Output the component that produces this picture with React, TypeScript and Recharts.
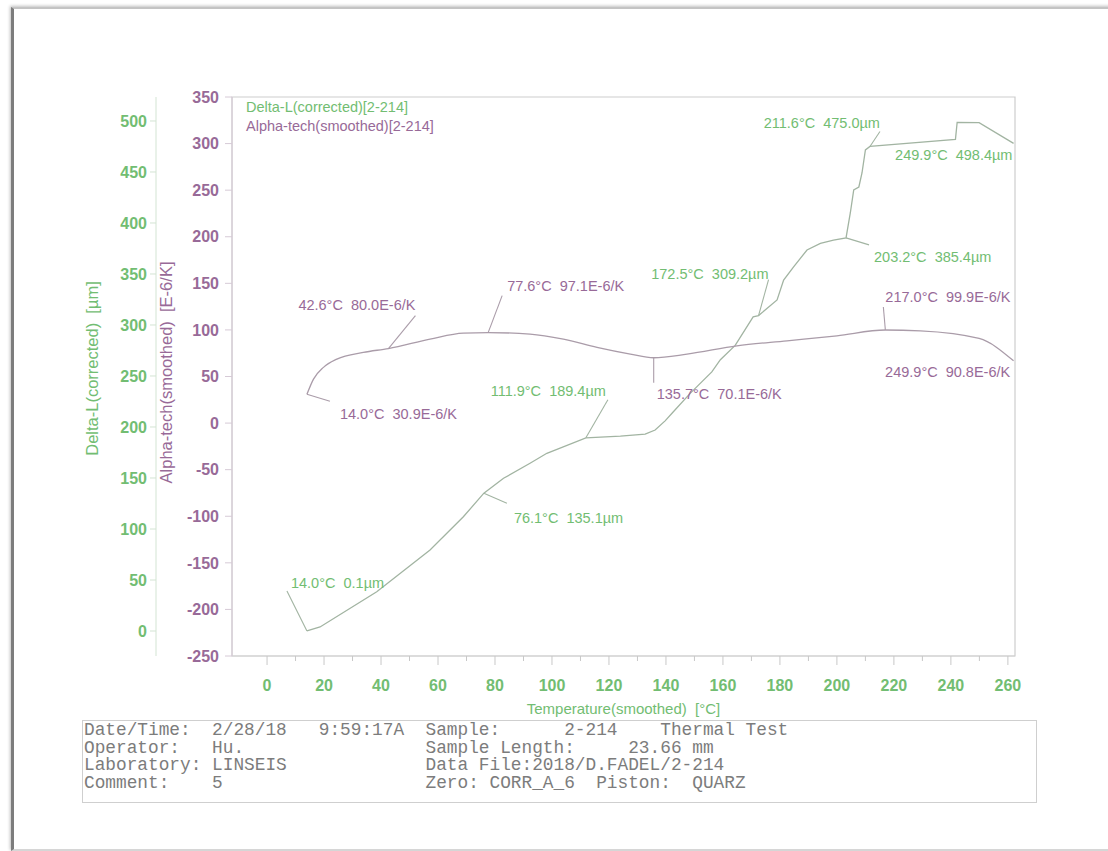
import React from 'react';
import { ComposedChart, Line, XAxis, YAxis, ReferenceArea, ReferenceDot, Legend } from 'recharts';

// ---------- data ----------
const dlTemps = [14.0, 18.6, 38.5, 57.2, 68.9, 76.1, 83.0, 92.3, 98.2, 111.9, 124.0, 132.7, 136.2, 139.7, 142.6, 148.5, 156.1, 159.1, 164.3, 170.6, 172.5, 179.0, 181.3, 184.8, 189.5, 194.2, 198.8, 203.2, 204.7, 205.9, 207.7, 208.8, 210.0, 211.6, 241.6, 242.2, 249.9, 262.0];
const dlValues = [0.1, 4, 38.5, 79.4, 112, 135.1, 149.7, 164.4, 174.2, 189.4, 191, 193, 197, 206, 215, 233, 254, 266, 280, 308, 309.2, 324.5, 344, 357, 373.5, 380, 383.3, 385.4, 409.8, 432.4, 435.3, 449, 471.6, 475.0, 482, 498.7, 498.4, 478];

const alphaTemps = [14.0, 16.3, 19.8, 24.5, 33.8, 42.6, 57.2, 68.9, 77.6, 92.3, 104.0, 115.8, 127.5, 135.7, 147.4, 164.9, 182.5, 200.0, 217.0, 229.3, 249.9, 262.0];
const alphaValues = [30.9, 47.2, 59.8, 68.7, 75.9, 80.0, 90.1, 96.6, 97.1, 95.5, 90.1, 81.2, 74.0, 70.1, 74.0, 82.9, 88.3, 93.7, 99.9, 99.0, 90.8, 66.8];

const dlMarkTemps = [14.0, 76.1, 111.9, 172.5, 203.2, 211.6, 249.9];
const dlMarkValues = [0.1, 135.1, 189.4, 309.2, 385.4, 475.0, 498.4];
const alphaMarkTemps = [14.0, 42.6, 77.6, 135.7, 217.0, 249.9];
const alphaMarkValues = [30.9, 80.0, 97.1, 70.1, 99.9, 90.8];

const xTickLabels = [0, 20, 40, 60, 80, 100, 120, 140, 160, 180, 200, 220, 240, 260];
const xMinorTicks = [10, 30, 50, 70, 90, 110, 130, 150, 170, 190, 210, 230, 250];
const dlTicks = [0, 50, 100, 150, 200, 250, 300, 350, 400, 450, 500];
const alphaTicks = [-250, -200, -150, -100, -50, 0, 50, 100, 150, 200, 250, 300, 350];

const dlName = 'Delta-L(corrected)[2-214]';
const alphaName = 'Alpha-tech(smoothed)[2-214]';

const infoRows: [number, string][][] = [
  [[0, 'Date/Time:'], [12, '2/28/18'], [22, '9:59:17A'], [32, 'Sample:'], [45, '2-214'], [54, 'Thermal Test']],
  [[0, 'Operator:'], [12, 'Hu.'], [32, 'Sample Length:'], [51, '23.66 mm']],
  [[0, 'Laboratory:'], [12, 'LINSEIS'], [32, 'Data File:2018/D.FADEL/2-214']],
  [[0, 'Comment:'], [12, '5'], [32, 'Zero: CORR_A_6  Piston:  QUARZ']],
];

// ---------- styles ----------
const GREEN = '#72bd72';
const PURPLE = '#986a98';
const DL_LINE = '#a2b4a2';
const AL_LINE = '#aa9ca9';
const FONT = '"Liberation Sans", Arial, sans-serif';

// label placement (pixel offsets from the marked point)
type Place = { dx: number; dy: number; anchor: 'start' | 'end'; leader?: [number, number] };
const dlPlaces: Place[] = [
  { dx: -16, dy: -48, anchor: 'start', leader: [-20, -40] },
  { dx: 30, dy: 25, anchor: 'start', leader: [23, 10] },
  { dx: 20, dy: -47, anchor: 'end', leader: [22, -38] },
  { dx: 10, dy: -42, anchor: 'end', leader: [10, -36] },
  { dx: 28, dy: 19, anchor: 'start', leader: [23, 7] },
  { dx: 10, dy: -23, anchor: 'end', leader: [10, -15] },
  { dx: -84, dy: 32, anchor: 'start' },
];
const alphaPlaces: Place[] = [
  { dx: 33, dy: 20, anchor: 'start', leader: [23, 7] },
  { dx: 27, dy: -44, anchor: 'end', leader: [27, -33] },
  { dx: 19, dy: -47, anchor: 'start', leader: [14, -37] },
  { dx: 3, dy: 36, anchor: 'start', leader: [0, 25] },
  { dx: 0, dy: -33, anchor: 'start', leader: [-2, -23] },
  { dx: -94, dy: 34, anchor: 'start' },
];

const dlData = dlTemps.map((t, i) => ({ t, v: dlValues[i] }));
const alphaData = alphaTemps.map((t, i) => ({ t, v: alphaValues[i] }));
const xTicks = [...xTickLabels, ...xMinorTicks].sort((a, b) => a - b);

const makeShape = (p: Place, color: string, lineColor: string, text: string) => (props: any) => {
  const { cx, cy } = props;
  return (
    <g>
      {p.leader && (
        <line x1={cx} y1={cy} x2={cx + p.leader[0]} y2={cy + p.leader[1]} stroke={lineColor} strokeWidth={1.1} />
      )}
      <text
        x={cx + p.dx}
        y={cy + p.dy}
        textAnchor={p.anchor}
        dominantBaseline="central"
        fill={color}
        fontSize={14.5}
        fontFamily={FONT}
        style={{ whiteSpace: 'pre' }}
      >
        {text}
      </text>
    </g>
  );
};

const VTitle = (props: any) => {
  const { viewBox, value, fill, dx, dy } = props;
  const vb = viewBox || { x: 0, y: 0, width: 0, height: 0 };
  const cx = vb.x + dx;
  const cy = vb.y + vb.height / 2 + dy;
  return (
    <text
      x={cx}
      y={cy}
      transform={`rotate(-90 ${cx} ${cy})`}
      textAnchor="middle"
      dominantBaseline="central"
      fill={fill}
      fontSize={16.5}
      fontFamily={FONT}
      style={{ whiteSpace: 'pre' }}
    >
      {value}
    </text>
  );
};

const XTitle = (props: any) => {
  const { viewBox, value } = props;
  const vb = viewBox || { x: 0, y: 0, width: 0, height: 0 };
  return (
    <text
      x={vb.x + vb.width / 2}
      y={vb.y + 52}
      textAnchor="middle"
      dominantBaseline="central"
      fill={GREEN}
      fontSize={15}
      fontFamily={FONT}
      style={{ whiteSpace: 'pre' }}
    >
      {value}
    </text>
  );
};

// x tick: long tick + label for majors, short tick for minors
const XTick = (props: any) => {
  const { x, y, payload } = props;
  const v = payload.value;
  const major = xTickLabels.includes(v);
  const top = y - 24; // axis line position (tickSize 8 + tickMargin 16)
  return (
    <g>
      <line x1={x} x2={x} y1={top} y2={top + (major ? 9 : 5)} stroke="#c8c8c8" strokeWidth={1} />
      {major && (
        <text
          x={x}
          y={y}
          dy="0.71em"
          textAnchor="middle"
          fill={GREEN}
          fontSize={16}
          fontWeight="bold"
          fontFamily={FONT}
        >
          {v}
        </text>
      )}
    </g>
  );
};

const LegendBox = () => (
  <div style={{ fontFamily: FONT, fontSize: 14.5, lineHeight: '19px', whiteSpace: 'pre' }}>
    <div style={{ color: GREEN }}>{dlName}</div>
    <div style={{ color: PURPLE }}>{alphaName}</div>
  </div>
);

const line = (cols: [number, string][]) => {
  let s = '';
  cols.forEach(([c, txt]) => {
    while (s.length < c) s += ' ';
    s += txt;
  });
  return s;
};

export default function App() {
  return (
    <div style={{ position: 'absolute', left: 0, top: 0, width: 1108, height: 851, background: '#fff', overflow: 'hidden' }}>
      <div
        style={{
          position: 'absolute',
          left: 11,
          top: 7,
          width: 1110,
          height: 840,
          borderLeft: '3px solid #7d7d7d',
          borderTop: '2px solid #c4c4c4',
          borderBottom: '2px solid #d6d6d6',
          boxShadow: '-1px -1px 3px rgba(0,0,0,0.25)',
        }}
      />
      <div style={{ position: 'absolute', left: 0, top: 0 }}>
        <ComposedChart width={1108} height={851} margin={{ top: 97, right: 93, bottom: 135, left: 76 }}>
          <XAxis
            type="number"
            dataKey="t"
            domain={[-12.3, 262.5]}
            ticks={xTicks}
            interval={0}
            allowDataOverflow
            height={60}
            tickSize={8}
            tickMargin={16}
            tickLine={false}
            stroke="#d2d2d2"
            tick={<XTick />}
            label={<XTitle value="Temperature(smoothed)  [°C]" />}
          />
          <YAxis
            yAxisId="alpha"
            orientation="left"
            type="number"
            width={76}
            domain={[-250, 350]}
            ticks={alphaTicks}
            interval={0}
            allowDataOverflow
            tickSize={7}
            tickMargin={6}
            stroke="#d6cad6"
            tick={{ fill: PURPLE, fontSize: 16, fontWeight: 'bold', fontFamily: FONT }}
            label={<VTitle value="Alpha-tech(smoothed)  [E-6/K]" fill={PURPLE} dx={10} dy={-4} />}
          />
          <YAxis
            yAxisId="dl"
            orientation="left"
            type="number"
            width={80}
            domain={[-24.5, 523.5]}
            ticks={dlTicks}
            interval={0}
            allowDataOverflow
            tickSize={6}
            tickMargin={3}
            stroke="#d3e4d3"
            tick={{ fill: GREEN, fontSize: 16, fontWeight: 'bold', fontFamily: FONT }}
            label={<VTitle value="Delta-L(corrected)  [µm]" fill={GREEN} dx={16} dy={-8} />}
          />
          <ReferenceArea yAxisId="alpha" x1={-12.3} x2={262.5} y1={-250} y2={350} fill="none" stroke="#cdcdcd" strokeWidth={1.2} />
          <Line
            yAxisId="dl"
            data={dlData}
            dataKey="v"
            name={dlName}
            type="linear"
            stroke={DL_LINE}
            strokeWidth={1.3}
            dot={false}
            isAnimationActive={false}
          />
          <Line
            yAxisId="alpha"
            data={alphaData}
            dataKey="v"
            name={alphaName}
            type="monotone"
            stroke={AL_LINE}
            strokeWidth={1.3}
            dot={false}
            isAnimationActive={false}
          />
          {dlMarkTemps.map((t, i) => (
            <ReferenceDot
              key={'d' + i}
              yAxisId="dl"
              x={t}
              y={dlMarkValues[i]}
              r={0}
              ifOverflow="visible"
              shape={makeShape(dlPlaces[i], GREEN, DL_LINE, `${t.toFixed(1)}°C  ${dlMarkValues[i].toFixed(1)}µm`)}
            />
          ))}
          {alphaMarkTemps.map((t, i) => (
            <ReferenceDot
              key={'a' + i}
              yAxisId="alpha"
              x={t}
              y={alphaMarkValues[i]}
              r={0}
              ifOverflow="visible"
              shape={makeShape(alphaPlaces[i], PURPLE, AL_LINE, `${t.toFixed(1)}°C  ${alphaMarkValues[i].toFixed(1)}E-6/K`)}
            />
          ))}
          <Legend
            layout="vertical"
            align="center"
            verticalAlign="middle"
            content={<LegendBox />}
            wrapperStyle={{ left: 246, top: 98, width: 'auto', height: 'auto' }}
          />
        </ComposedChart>
      </div>
      <div
        style={{
          position: 'absolute',
          left: 82,
          top: 720,
          width: 955,
          height: 83,
          border: '1px solid #cfcfcf',
          boxSizing: 'border-box',
        }}
      />
      <pre
        style={{
          position: 'absolute',
          left: 84,
          top: 722,
          margin: 0,
          fontFamily: '"Liberation Mono", "Courier New", monospace',
          fontSize: 17.8,
          lineHeight: '17.7px',
          color: '#7c7c7c',
        }}
      >
        {infoRows.map((r) => line(r)).join('\n')}
      </pre>
    </div>
  );
}
